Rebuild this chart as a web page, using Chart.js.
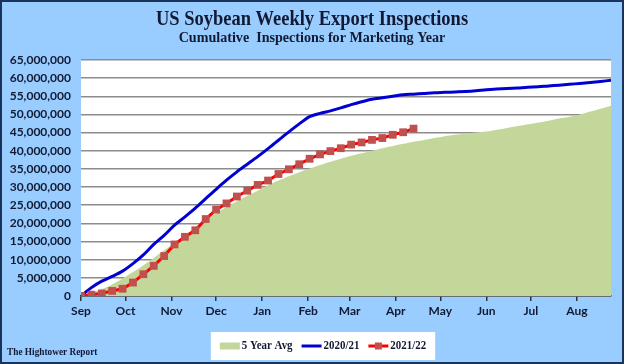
<!DOCTYPE html>
<html>
<head>
<meta charset="utf-8">
<script src="https://cdn.jsdelivr.net/npm/chart.js@4.4.0/dist/chart.umd.min.js"></script>
<style>
  html, body { margin: 0; padding: 0; background: #99CCFF; }
</style>
</head>
<body>
<canvas id="inspections" width="624" height="364"></canvas>
<script>
// month axis (marketing year starts Sep 1)
const months = ['Sep', 'Oct', 'Nov', 'Dec', 'Jan', 'Feb', 'Mar', 'Apr', 'May', 'Jun', 'Jul', 'Aug'];
const monthDays = [30, 31, 30, 31, 31, 28, 31, 30, 31, 30, 31, 31];

const seriesNames = ['5 Year Avg', '2020/21', '2021/22'];

// cumulative inspections by week, million bushels
const avg5yr = [0, 0.8, 1.9, 3.2, 4.8, 6.6, 8.5, 10.5, 12.6, 14.7, 16.8, 18.9, 21.0, 22.8,
  24.5, 26.1, 27.6, 29.0, 30.5, 31.8, 33.0, 34.1, 35.1, 36.1, 37.0, 37.8, 38.6, 39.3, 40.0,
  40.7, 41.3, 41.9, 42.5, 43.0, 43.5, 44.0, 44.4, 44.7, 45.0, 45.3, 45.8, 46.3, 46.8, 47.3,
  47.8, 48.3, 48.9, 49.4, 50.0, 50.8, 51.6, 52.4];
const my2020 = [0, 2.3, 4.1, 5.4, 6.85, 8.9, 11.3, 14.2, 16.7, 19.5, 21.8, 24.2, 26.8, 29.4,
  31.9, 34.2, 36.3, 38.4, 40.6, 42.9, 45.2, 47.4, 49.4, 50.3, 51.0, 51.8, 52.7, 53.5, 54.2,
  54.6, 55.0, 55.4, 55.6, 55.8, 56.0, 56.1, 56.2, 56.3, 56.5, 56.8, 57.0, 57.15, 57.3, 57.5,
  57.6, 57.85, 58.05, 58.3, 58.55, 58.8, 59.1, 59.4];
const my2021 = [0, 0.36, 0.7, 1.4, 2.0, 3.7, 6.0, 8.3, 11.0, 14.2, 16.3, 18.1, 21.2, 23.8,
  25.5, 27.4, 29.0, 30.6, 31.8, 33.6, 34.9, 36.3, 37.8, 39.0, 39.9, 40.7, 41.7, 42.3, 43.0,
  43.5, 44.4, 45.1, 46.1];

const weeks = avg5yr.map((v, i) => i);
const toUnits = arr => arr.map(v => v * 1e6);

// month start positions in weeks
const monthStarts = [];
let day = 0;
monthDays.forEach(d => { monthStarts.push(day / 7); day += d; });

const withCommas = n => String(Math.round(n)).replace(/\B(?=(\d{3})+(?!\d))/g, ',');

const axisFont = { family: 'Lato, "Open Sans", sans-serif', size: 12, weight: 'bold' };
const serif = '"Liberation Serif", "DejaVu Serif", serif';
const ink = '#121a33';

function squeezedText(ctx, text, x, y, sx) {
  ctx.save();
  ctx.translate(x, y);
  ctx.scale(sx, 1);
  ctx.fillText(text, 0, 0);
  ctx.restore();
}

const frame = {
  id: 'frame',
  beforeDraw(chart) {
    const { ctx, width, height, chartArea: a } = chart;
    ctx.save();
    ctx.fillStyle = '#99CCFF';
    ctx.fillRect(0, 0, width, height);
    ctx.fillStyle = '#FFFFFF';
    ctx.fillRect(a.left, a.top, a.right - a.left, a.bottom - a.top);
    ctx.strokeStyle = '#1A3358';
    ctx.lineWidth = 2;
    ctx.strokeRect(1, 1, width - 2, height - 2);
    ctx.restore();
  },
  afterDraw(chart) {
    const { ctx, width } = chart;
    const ds = chart.data.datasets;
    ctx.save();
    ctx.fillStyle = ink;
    ctx.textBaseline = 'middle';

    // titles
    ctx.textAlign = 'center';
    ctx.font = 'bold 21px ' + serif;
    squeezedText(ctx, 'US Soybean Weekly Export Inspections', width / 2, 20, 0.88);
    ctx.font = 'bold 15px ' + serif;
    squeezedText(ctx, 'Cumulative  Inspections for Marketing Year', width / 2, 38, 0.94);

    // footer
    ctx.textAlign = 'left';
    ctx.font = 'bold 10px ' + serif;
    squeezedText(ctx, 'The Hightower Report', 7, 352, 0.93);

    // legend
    const sx = 0.84, sw = 20, gap = 2, itemGap = 9, pad = 9;
    ctx.font = 'bold 13px ' + serif;
    const textW = seriesNames.map(t => ctx.measureText(t).width * sx);
    const contentW = textW.reduce((s, w) => s + sw + gap + w, 0) + itemGap * (seriesNames.length - 1);
    const boxW = contentW + pad * 2;
    const boxX = 323 - boxW / 2, boxY = 332, boxH = 28, midY = boxY + boxH / 2;
    ctx.fillStyle = '#FFFFFF';
    ctx.fillRect(boxX, boxY, boxW, boxH);
    let x = boxX + pad;
    seriesNames.forEach((name, i) => {
      const d = ds[i];
      if (d.fill) {
        ctx.fillStyle = d.backgroundColor;
        ctx.fillRect(x, midY - 3.5, sw, 7);
      } else {
        ctx.strokeStyle = d.borderColor;
        ctx.lineWidth = d.borderWidth;
        ctx.beginPath();
        ctx.moveTo(x, midY);
        ctx.lineTo(x + sw, midY);
        ctx.stroke();
        if (d.pointRadius > 0) {
          ctx.fillStyle = d.pointBackgroundColor;
          ctx.fillRect(x + sw / 2 - 3.5, midY - 3.5, 7, 7);
        }
      }
      x += sw + gap;
      ctx.fillStyle = ink;
      squeezedText(ctx, name, x, midY, sx);
      x += textW[i] + itemGap;
    });
    ctx.restore();
  }
};

new Chart(document.getElementById('inspections'), {
  type: 'line',
  data: {
    labels: weeks,
    datasets: [{
      label: seriesNames[0],
      data: toUnits(avg5yr),
      fill: 'origin',
      backgroundColor: '#C4D79B',
      borderColor: '#C4D79B',
      borderWidth: 0,
      pointRadius: 0,
      tension: 0.3,
      order: 3
    }, {
      label: seriesNames[1],
      data: toUnits(my2020),
      fill: false,
      borderColor: '#0000D2',
      borderWidth: 3,
      pointRadius: 0,
      tension: 0.3,
      order: 2
    }, {
      label: seriesNames[2],
      data: toUnits(my2021),
      fill: false,
      borderColor: '#FF0000',
      borderWidth: 3,
      pointStyle: 'rect',
      pointRadius: 5.5,
      pointBackgroundColor: '#C0504D',
      pointBorderColor: '#C0504D',
      pointBorderWidth: 0,
      tension: 0,
      order: 1
    }]
  },
  options: {
    responsive: false,
    animation: false,
    layout: { padding: { left: 8, right: 13, top: 60, bottom: 46 } },
    plugins: {
      legend: { display: false },
      title: { display: false },
      tooltip: { enabled: false }
    },
    scales: {
      x: {
        type: 'linear',
        min: 0,
        max: weeks.length - 1,
        afterBuildTicks(scale) {
          scale.ticks = monthStarts.map(v => ({ value: v }));
        },
        afterFit(scale) { scale.height = 22; },
        ticks: {
          autoSkip: false,
          maxRotation: 0,
          padding: 3,
          color: ink,
          font: axisFont,
          callback: (v, i) => months[i]
        },
        grid: { drawOnChartArea: false, drawTicks: true, tickLength: 5, color: '#333333', lineWidth: 1.5 },
        border: { display: true, color: '#333333', width: 1.5 }
      },
      y: {
        min: 0,
        max: 65e6,
        afterFit(scale) { scale.width = 73; },
        ticks: {
          stepSize: 5e6,
          padding: 10,
          color: ink,
          font: axisFont,
          callback: v => withCommas(v)
        },
        grid: { color: '#8C8C8C', lineWidth: 1.5, drawTicks: false },
        border: { display: false }
      }
    }
  },
  plugins: [frame]
});
</script>
</body>
</html>
